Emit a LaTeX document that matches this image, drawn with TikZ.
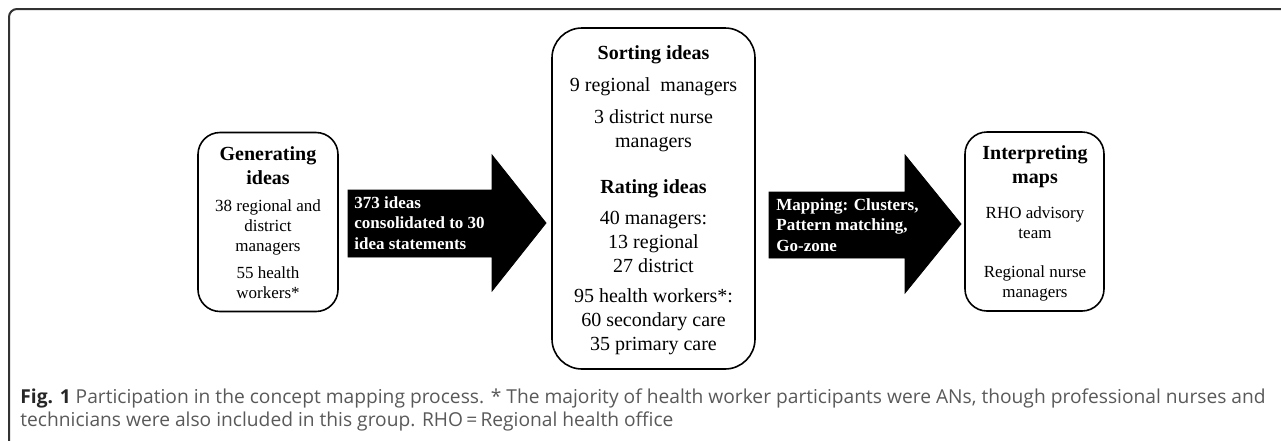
\documentclass[tikz,border=0pt]{standalone}
\usepackage{fontspec}
\setmainfont{Liberation Serif}
\newfontfamily\capfont{Open Sans}
\usetikzlibrary{positioning}

\begin{document}
\begin{tikzpicture}[x=0.5pt,y=-0.5pt,
		stage/.style={draw,line width=0.8pt,rounded corners=11pt,inner sep=0pt},
		blockarrow/.style={fill=black},
		head/.style={font=\bfseries\fontsize{10}{12}\selectfont,align=center},
		who/.style={font=\fontsize{8.5}{10}\selectfont,align=center},
		whobig/.style={font=\fontsize{10}{12}\selectfont,align=center},
		arrowtext/.style={text=white,font=\bfseries\fontsize{8.5}{10.25}\selectfont,align=left,anchor=west,inner sep=0pt}]
	\useasboundingbox (0,0) rectangle (1281,440);
	% Rahmen
	\draw[line width=1pt,black!80,rounded corners=4pt] (9,450) -- (9,9) -- (1295,9);
	% die drei Stufen
	\node[stage,minimum width=70pt,minimum height=89.5pt] (gen) at (268,222) {};
	\node[stage,rounded corners=15pt,minimum width=101.5pt,minimum height=170.5pt] (sortrate) at (653.5,198.5) {};
	\node[stage,minimum width=69.5pt,minimum height=89.5pt] (interp) at (1034.5,221.5) {};
	% Blockpfeile
	\draw[blockarrow] (348,190) -- (492,190) -- (492,155) -- (546,223) -- (492,291) -- (492,257) -- (348,257) -- cycle;
	\draw[blockarrow] (769,192) -- (905,192) -- (905,155) -- (961,224) -- (905,293) -- (905,258) -- (769,258) -- cycle;
	\node[arrowtext] (consol) at (354,223) {373 ideas\\consolidated to 30\\idea statements};
	\node[arrowtext] (mapping) at (776,225) {Mapping: Clusters,\\Pattern matching,\\Go-zone};
	% Generating
	\node[head] (genhead) at (268,165.5) {Generating\\ideas};
	\node[who] (genmgr) at (268,227) {38 regional and\\district\\managers};
	\node[who] (genhw) at (268,283) {55 health\\workers*};
	% Sorting / Rating
	\node[head] (sorthead) at (653.5,55) {Sorting ideas};
	\node[whobig] (sortreg) at (653.5,87) {9 regional\ \ managers};
	\node[whobig] (sortdist) at (653.5,131) {3 district nurse\\managers};
	\node[head] (ratehead) at (653.5,189) {Rating ideas};
	\node[whobig] (ratemgr) at (653.5,242) {40 managers:\\13 regional\\27 district};
	\node[whobig] (ratehw) at (653.5,322) {95 health workers*:\\60 secondary care\\35 primary care};
	% Interpreting
	\node[head] (interphead) at (1035,166.5) {Interpreting\\maps};
	\node[who] (interprho) at (1035,222.5) {RHO advisory\\team};
	\node[who] (interpnurse) at (1035,283) {Regional nurse\\managers};
	% Bildunterschrift
	\node[anchor=west,inner sep=0pt,align=left,text=black!65,font=\capfont\fontsize{9.6}{11.5}\selectfont] (caption) at (20,409.5)
		{{\bfseries\color{black!85}Fig. 1} Participation in the concept mapping process. * The majority of health worker participants were ANs, though professional nurses and\\technicians were also included in this group. RHO\,=\,Regional health office};
\end{tikzpicture}
\end{document}
